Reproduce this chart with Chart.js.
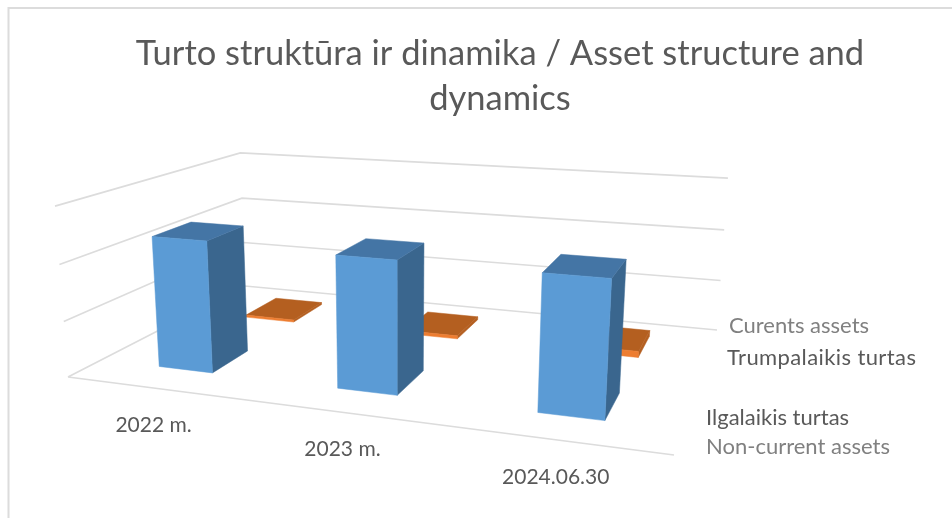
<!DOCTYPE html>
<html><head><meta charset="utf-8">
<style>html,body{margin:0;padding:0;background:#fff}#w{width:952px;height:518px}canvas{filter:blur(0.4px)}</style>
<script src="https://cdn.jsdelivr.net/npm/chart.js@4"></script></head>
<body><div id="w"><canvas id="c"></canvas></div>
<script>
const categories=['2022 m.','2023 m.','2024.06.30'];
const nonCurrent=[94.3,91.8,91.2];
const current=[1.7,2.4,4.6];
const titleLines=['Turto struktūra ir dinamika / Asset structure and','dynamics'];
const nonCurrentNames=['Ilgalaikis turtas','Non-current assets'];
const currentNames=['Curents assets','Trumpalaikis turtas'];

const FLOOR=[[68,377],[674,455],[717,330],[245,286]];
const VANISH=[400,4739],RISE=-0.0377;
function homog(q){
 const [p0,p1,p2,p3]=q;
 const dx1=p1[0]-p2[0],dx2=p3[0]-p2[0],sx=p0[0]-p1[0]+p2[0]-p3[0];
 const dy1=p1[1]-p2[1],dy2=p3[1]-p2[1],sy=p0[1]-p1[1]+p2[1]-p3[1];
 const det=dx1*dy2-dx2*dy1;
 const g=(sx*dy2-dx2*sy)/det,h=(dx1*sy-sx*dy1)/det;
 return {a:p1[0]-p0[0]+g*p1[0],b:p3[0]-p0[0]+h*p3[0],c:p0[0],d:p1[1]-p0[1]+g*p1[1],e:p3[1]-p0[1]+h*p3[1],f:p0[1],g,h};
}
const H=homog(FLOOR);
function proj(u,v,w){
 const k=RISE*w,D=H.g*u+H.h*v+1+k;
 return [(H.a*u+H.b*v+H.c+k*VANISH[0])/D,(H.d*u+H.e*v+H.f+k*VANISH[1])/D];
}
const DEPTH=[[0.155,0.356],[0.66,0.87]];
const FACES=[['#5b9bd5','#3a668e','#4475a5'],['#ed7d31','#b45f20','#b45f20']];
const scene={id:'scene',
 beforeDatasetsDraw(chart){
  const c=chart.ctx,a=chart.chartArea,ys=chart.scales.y;
  const U=x=>(x-a.left)/(a.right-a.left),W=y=>(a.bottom-y)/(a.bottom-a.top);
  const poly=(pts,col)=>{c.beginPath();pts.forEach((p,i)=>i?c.lineTo(p[0],p[1]):c.moveTo(p[0],p[1]));c.closePath();c.fillStyle=col;c.strokeStyle=col;c.lineWidth=0.5;c.fill();c.stroke();};
  c.save();
  c.strokeStyle='#dcdcdc';c.lineWidth=2;
  c.beginPath();c.moveTo(8.5,518);c.lineTo(8.5,8);c.lineTo(952,8);c.stroke();
  c.lineWidth=1.7;
  ys.ticks.forEach(t=>{const w=W(ys.getPixelForValue(t.value));
   const l=[proj(0,0,w),proj(0,1,w),proj(1,1,w)];
   c.beginPath();c.moveTo(...l[0]);c.lineTo(...l[1]);c.lineTo(...l[2]);
   if(t.value===0){c.moveTo(...l[0]);c.lineTo(...proj(1,0,0));}
   c.stroke();});
  [1,0].forEach(ds=>{
   chart.getDatasetMeta(ds).data.forEach(b=>{
    const u0=U(b.x-b.width/2),u1=U(b.x+b.width/2),w=W(b.y),[d0,d1]=DEPTH[ds],f=FACES[ds];
    poly([proj(u1,d0,0),proj(u1,d1,0),proj(u1,d1,w),proj(u1,d0,w)],f[1]);
    poly([proj(u0,d0,w),proj(u1,d0,w),proj(u1,d1,w),proj(u0,d1,w)],f[2]);
    poly([proj(u0,d0,0),proj(u1,d0,0),proj(u1,d0,w),proj(u0,d0,w)],f[0]);
   });
  });
  c.textBaseline='middle';c.textAlign='center';c.font='21px Lato';c.fillStyle='#595959';
  chart.scales.x.getLabels().forEach((t,i)=>{const p=proj(U(chart.scales.x.getPixelForValue(i)),0,0);c.fillText(t,p[0]-1,p[1]+37);});
  c.textAlign='left';c.font='22px Lato';
  c.fillStyle='#808080';c.fillText(currentNames[0],729,326);c.fillText(nonCurrentNames[1],706,447);
  c.fillStyle='#595959';c.fillText(nonCurrentNames[0],706,418);
  c.letterSpacing='0.4px';c.fillText(currentNames[1],727,358);c.letterSpacing='0px';
  c.restore();
  return false;
 }};
new Chart(document.getElementById('c'),{type:'bar',
 data:{labels:categories,datasets:[
  {label:nonCurrentNames.join(' / '),data:nonCurrent,backgroundColor:'#5b9bd5',grouped:false,barPercentage:0.31,categoryPercentage:1},
  {label:currentNames.join(' / '),data:current,backgroundColor:'#ed7d31',grouped:false,barPercentage:0.31,categoryPercentage:1}]},
 options:{responsive:true,maintainAspectRatio:false,animation:false,
  layout:{padding:{left:48,top:0}},
  plugins:{legend:{display:false},tooltip:{enabled:false},
   title:{display:true,fullSize:false,text:titleLines,color:'#595959',font:{family:'Lato',size:34.5,weight:'normal',lineHeight:1.3},padding:{top:31.5,bottom:10}}},
  scales:{x:{display:false},y:{display:false,min:0,max:120,ticks:{stepSize:40}}}},
 plugins:[scene]});
</script></body></html>
